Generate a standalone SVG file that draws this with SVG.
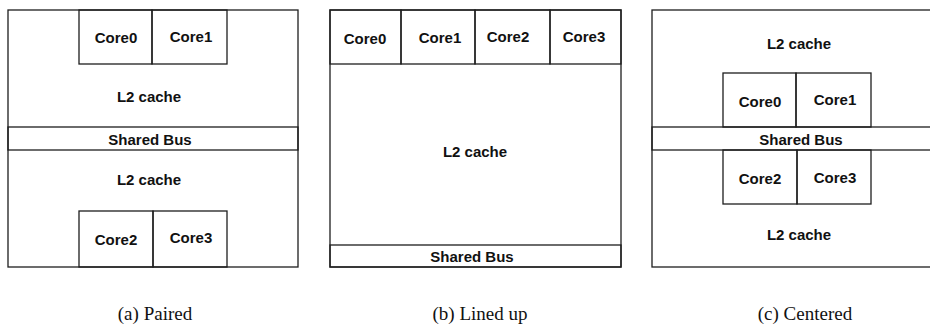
<svg xmlns="http://www.w3.org/2000/svg" width="930" height="326" viewBox="0 0 930 326">
<style>
rect,line{fill:none;stroke:#1e1e1e;stroke-width:1.3}
.bg{fill:#fff;stroke:none}
text{font-family:"Liberation Sans",Arial,sans-serif;font-weight:bold;font-size:15px;fill:#111;text-anchor:middle}
.cap{font-family:"Liberation Serif","Times New Roman",serif;font-weight:normal;font-size:19px}
</style>
<rect class="bg" x="0" y="0" width="930" height="326"/>
<g id="panel-a">
  <g id="a-outer"><rect x="8" y="10" width="290" height="257"/></g>
  <g id="a-l2-top"><text x="149" y="102">L2 cache</text></g>
  <g id="a-core0"><rect x="79" y="10" width="73" height="54"/><text x="116" y="43">Core0</text></g>
  <g id="a-core1"><rect x="152" y="10" width="75" height="54"/><text x="191" y="42">Core1</text></g>
  <g id="a-bus"><rect x="8" y="127" width="290" height="23"/><text x="150" y="145">Shared Bus</text></g>
  <g id="a-l2-bottom"><text x="149" y="185">L2 cache</text></g>
  <g id="a-core2"><rect x="79" y="211" width="74" height="56"/><text x="116" y="245">Core2</text></g>
  <g id="a-core3"><rect x="153" y="211" width="74" height="56"/><text x="191" y="243">Core3</text></g>
</g>
<g id="panel-b">
  <g id="b-outer"><rect x="330" y="10" width="291" height="257"/></g>
  <g id="b-core0"><rect x="330" y="10" width="71" height="54"/><text x="365" y="44">Core0</text></g>
  <g id="b-core1"><rect x="401" y="10" width="74" height="54"/><text x="440" y="43">Core1</text></g>
  <g id="b-core2"><rect x="475" y="10" width="75" height="54"/><text x="508" y="42">Core2</text></g>
  <g id="b-core3"><rect x="550" y="10" width="71" height="54"/><text x="584" y="42">Core3</text></g>
  <g id="b-l2"><text x="475" y="157">L2 cache</text></g>
  <g id="b-bus"><rect x="330" y="245" width="291" height="22"/><text x="472" y="262">Shared Bus</text></g>
</g>
<g id="panel-c">
  <g id="c-outer"><rect x="652" y="10" width="300" height="257"/></g>
  <g id="c-l2-top"><text x="799" y="49">L2 cache</text></g>
  <g id="c-core0"><rect x="723" y="73" width="73" height="54"/><text x="760" y="107">Core0</text></g>
  <g id="c-core1"><rect x="796" y="73" width="75" height="54"/><text x="835" y="105">Core1</text></g>
  <g id="c-bus"><rect x="652" y="127" width="300" height="23"/><text x="801" y="145">Shared Bus</text></g>
  <g id="c-core2"><rect x="723" y="150" width="74" height="54"/><text x="760" y="184">Core2</text></g>
  <g id="c-core3"><rect x="797" y="150" width="74" height="54"/><text x="835" y="183">Core3</text></g>
  <g id="c-l2-bottom"><text x="799" y="240">L2 cache</text></g>
</g>
<g id="connectors"></g>
<g id="captions">
  <text class="cap" x="155" y="320">(a) Paired</text>
  <text class="cap" x="480" y="320">(b) Lined up</text>
  <text class="cap" x="805" y="320">(c) Centered</text>
</g>
</svg>
